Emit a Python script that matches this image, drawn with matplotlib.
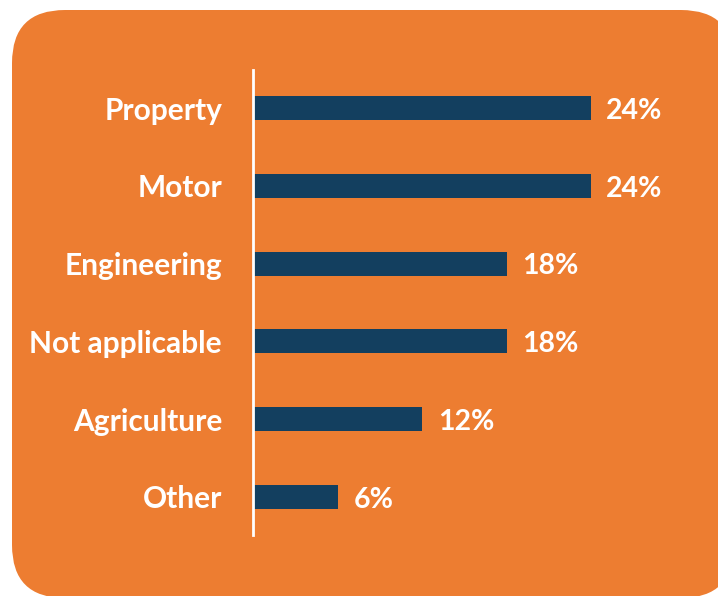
import matplotlib.pyplot as plt
from matplotlib.patches import FancyBboxPatch
from matplotlib.transforms import IdentityTransform

# Survey categories and their shares (%)
categories = ['Property', 'Motor', 'Engineering', 'Not applicable', 'Agriculture', 'Other']
shares = [24, 24, 18, 18, 12, 6]

orange = '#ED7D31'
navy = '#133F5F'

plt.rcParams['font.family'] = ['Lato', 'DejaVu Sans']

fig = plt.figure(figsize=(7.18, 5.96), dpi=100)
fig.patch.set_facecolor('white')

# Rounded orange panel behind the chart (pixel coordinates)
panel = FancyBboxPatch((12, -2), 722, 588,
                       boxstyle='round,pad=0,rounding_size=53',
                       transform=IdentityTransform(),
                       facecolor=orange, edgecolor='none', zorder=-5)
fig.patches.append(panel)

ax = fig.add_axes([254 / 718, 61 / 596, 421 / 718, 465 / 596])
ax.set_facecolor('none')
ax.set_zorder(1)

y = list(range(len(categories)))
ax.barh(y, shares, height=0.31, color=navy)

ax.set_xlim(0, 30)
ax.set_ylim(5.49, -0.49)

for s in ['top', 'right', 'bottom']:
    ax.spines[s].set_visible(False)
ax.spines['left'].set_color('white')
ax.spines['left'].set_linewidth(2)
ax.spines['left'].set_position(('outward', 1))

ax.set_xticks([])
ax.set_yticks(y)
ax.set_yticklabels(categories, fontsize=21.5, fontweight='bold', color='white')
ax.tick_params(axis='y', length=0, pad=22)

for yi, v in zip(y, shares):
    ax.annotate(f'{v}%', xy=(v, yi), xytext=(11, -2), textcoords='offset points',
                ha='left', va='center', fontsize=20.5, fontweight='bold', color='white')

fig.savefig('out.png', dpi=100, facecolor=fig.get_facecolor())
